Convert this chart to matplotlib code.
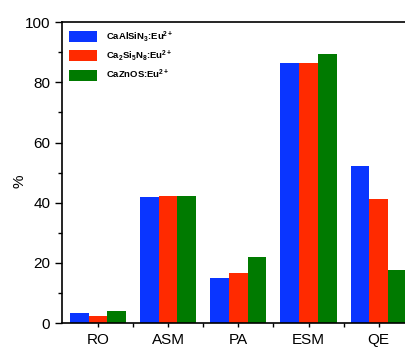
import numpy as np
import matplotlib.pyplot as plt
from matplotlib.ticker import MultipleLocator, FixedLocator

plt.rcParams['font.family'] = ['Liberation Sans', 'DejaVu Sans']
plt.rcParams['mathtext.fontset'] = 'custom'
plt.rcParams['mathtext.rm'] = 'Liberation Sans:bold'
plt.rcParams['mathtext.bf'] = 'Liberation Sans:bold'
plt.rcParams['mathtext.it'] = 'Liberation Sans:bold'

categories = ["RO", "ASM", "PA", "ESM", "QE"]
series_names = [r"CaAlSiN$_\mathrm{3}$:Eu$^\mathrm{2+}$",
                r"Ca$_\mathrm{2}$Si$_\mathrm{5}$N$_\mathrm{8}$:Eu$^\mathrm{2+}$",
                r"CaZnOS:Eu$^\mathrm{2+}$"]
caalsin3 = [3.2, 42.0, 15.0, 86.3, 52.1]
ca2si5n8 = [2.4, 42.3, 16.5, 86.3, 41.1]
cazos = [4.1, 42.1, 22.0, 89.3, 17.8]
colors = ["#0a35ff", "#ff2a00", "#007a00"]

fig = plt.figure(figsize=(4.06, 3.47), dpi=100)
ax = fig.add_axes([0.153, 0.069, 0.868, 0.867])

x = np.arange(len(categories))
w = 0.267
for i, (vals, name, c) in enumerate(zip([caalsin3, ca2si5n8, cazos], series_names, colors)):
    ax.bar(x + (i - 1) * w, vals, w, color=c, label=name)

ax.set_xlim(-0.51, 4.51)
ax.set_ylim(0, 100)
ax.set_ylabel("%", fontsize=11)
ax.yaxis.set_label_coords(-0.10, 0.47)

ax.yaxis.set_major_locator(MultipleLocator(20))
ax.yaxis.set_minor_locator(MultipleLocator(10))
ax.set_xticks(x)
ax.set_xticklabels(categories, fontsize=11)
ax.xaxis.set_minor_locator(FixedLocator(x[:-1] + 0.5))
ax.tick_params(axis='x', which='major', length=3, width=1, pad=4)
ax.tick_params(axis='x', which='minor', length=3, width=1, direction='out')
ax.tick_params(axis='y', which='major', length=5, width=1, labelsize=11)
ax.tick_params(axis='y', which='minor', length=3, width=1)
for s in ax.spines.values():
    s.set_linewidth(1.2)

leg = ax.legend(loc='upper left', frameon=False, prop={'size': 6.8, 'weight': 'bold'},
                handlelength=3.0, handleheight=1.4, borderaxespad=0.3, labelspacing=0.5,
                handletextpad=0.9)

fig.savefig("out.png", dpi=100)
